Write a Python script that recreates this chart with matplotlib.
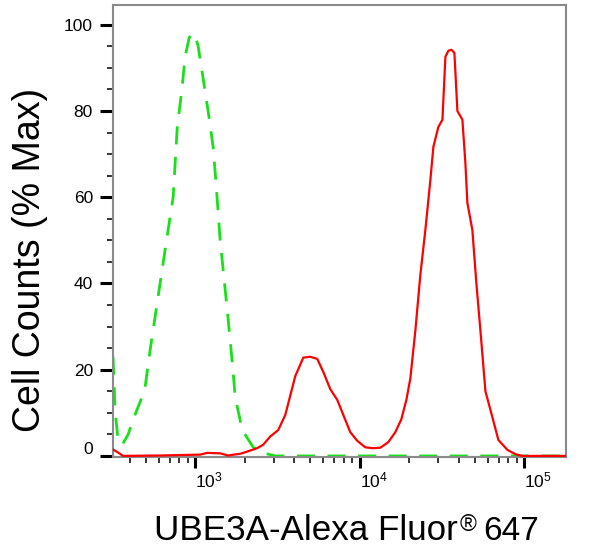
import numpy as np
import matplotlib
matplotlib.use("Agg")
import matplotlib.pyplot as plt
from matplotlib.ticker import LogLocator, MultipleLocator, FixedLocator, NullFormatter
import matplotlib.transforms as mtransforms

plt.rcParams['font.family'] = ['Liberation Sans', 'DejaVu Sans']
plt.rcParams['mathtext.fontset'] = 'custom'
plt.rcParams['mathtext.rm'] = 'Liberation Sans'
plt.rcParams['mathtext.it'] = 'Liberation Sans'
plt.rcParams['mathtext.default'] = 'regular'

# UBE3A stained sample (red)
red_x = [317, 340, 365, 612, 1072, 1183, 1419, 1587, 1878, 2070, 2382, 2590, 2857,
         3197, 3526, 3782, 4055, 4537, 5002, 5516, 5999, 6617, 7297, 7940, 8757,
         9657, 10800, 11910, 13330, 14900, 16430, 17870, 19180, 20280, 21740,
         23320, 25010, 26830, 27980, 29990, 31760, 33110, 34530, 36010, 37540,
         39160, 41980, 43770, 45010, 48270, 51060, 54040, 57950, 63840, 69470,
         78780, 88130, 97200, 179900]
red_y = [1.5, 0.8, 0.0, 0.1, 0.3, 0.7, 0.6, 0.1, 0.5, 1.0, 1.8, 2.6, 4.5,
         6.0, 9.5, 14.0, 18.5, 22.8, 23.0, 22.5, 19.5, 15.5, 13.0, 9.5, 5.5,
         3.5, 2.0, 1.8, 1.9, 3.2, 5.5, 8.5, 13.0, 18.0, 29.0,
         42.0, 52.4, 64.0, 71.7, 76.3, 78.0, 92.6, 94.0, 94.2, 93.5,
         80.0, 78.0, 68.0, 58.7, 52.4, 40.0, 29.0, 15.0, 9.0, 3.7,
         1.4, 0.4, 0.0, 0.0]

# isotype control (green dashed)
green_x = [317, 327, 340, 360, 392, 420, 463, 497, 533, 588, 658, 735, 778, 834,
           869, 920, 959, 1000, 1043, 1103, 1199, 1286, 1341, 1419, 1565, 1678,
           1751, 1931, 2253, 2590, 3063, 179900]
green_y = [23.0, 10.0, 4.0, 2.5, 5.0, 8.4, 12.5, 16.0, 24.6, 35.5, 48.0, 60.0, 76.0, 85.6,
           92.6, 97.0, 98.0, 97.7, 95.0, 89.0, 80.0, 71.7, 63.0, 50.0, 34.0, 22.0,
           13.7, 6.0, 2.0, 0.7, 0.0, 0.0]

y_ticks = [0, 20, 40, 60, 80, 100]
x_ticks = [1e3, 1e4, 1e5]
x_ticklabels = ['$10^{3}$', '$10^{4}$', '$10^{5}$']

W, H = 606, 559
fig = plt.figure(figsize=(W / 100, H / 100), dpi=100)
ax = fig.add_axes([113 / W, 1 - 457 / H, (566 - 113) / W, (457 - 5) / H])

ax.plot(green_x, green_y, color='#19e019', lw=2.0, dashes=(6.5, 4.5), zorder=2)
ax.plot(red_x, red_y, color='#ff0000', lw=1.6, zorder=3)

ax.set_xscale('log')
ax.set_xlim(317, 178800)
ax.set_ylim(-0.25, 104.6)

ax.set_yticks(y_ticks)
ax.set_yticklabels([str(v) for v in y_ticks])
ax.yaxis.set_minor_locator(MultipleLocator(5))
ax.xaxis.set_major_locator(FixedLocator(x_ticks))
ax.set_xticklabels(x_ticklabels)
ax.xaxis.set_minor_locator(LogLocator(base=10, subs=np.arange(2, 10)))
ax.xaxis.set_minor_formatter(NullFormatter())

for s in ax.spines.values():
    s.set_color('#8a8a8a')
    s.set_linewidth(1.5)

ax.tick_params(axis='y', which='major', length=9.4, width=2.2, color='black',
               labelsize=12.5, pad=5)
ax.tick_params(axis='y', which='minor', length=4.5, width=1.1, color='black')
ax.tick_params(axis='x', which='major', length=8, width=2.2, color='black',
               labelsize=12.5, pad=2)
ax.tick_params(axis='x', which='minor', length=4.5, width=1.1, color='black')

for lab in ax.get_xticklabels():
    lab.set_ha('left')
# lift the "0" label a bit, as in the original
zero = ax.get_yticklabels()[0]
zero.set_transform(zero.get_transform() + mtransforms.ScaledTranslation(0, 6 / 72, fig.dpi_scale_trans))

fig.text(30 / W, 1 - 260 / H, 'Cell Counts (% Max)', rotation=90,
         ha='center', va='center', fontsize=27)
# x label in three pieces so the ® can be smaller and raised
base = 1 - 540 / H
fig.text(458 / W, base, 'UBE3A-Alexa Fluor', ha='right', va='baseline', fontsize=25.2)
fig.text(460 / W, 1 - 513 / H, '®', ha='left', va='top', fontsize=16.5)
fig.text(539 / W, base, '647', ha='right', va='baseline', fontsize=24)

fig.savefig('out.png', dpi=100)
